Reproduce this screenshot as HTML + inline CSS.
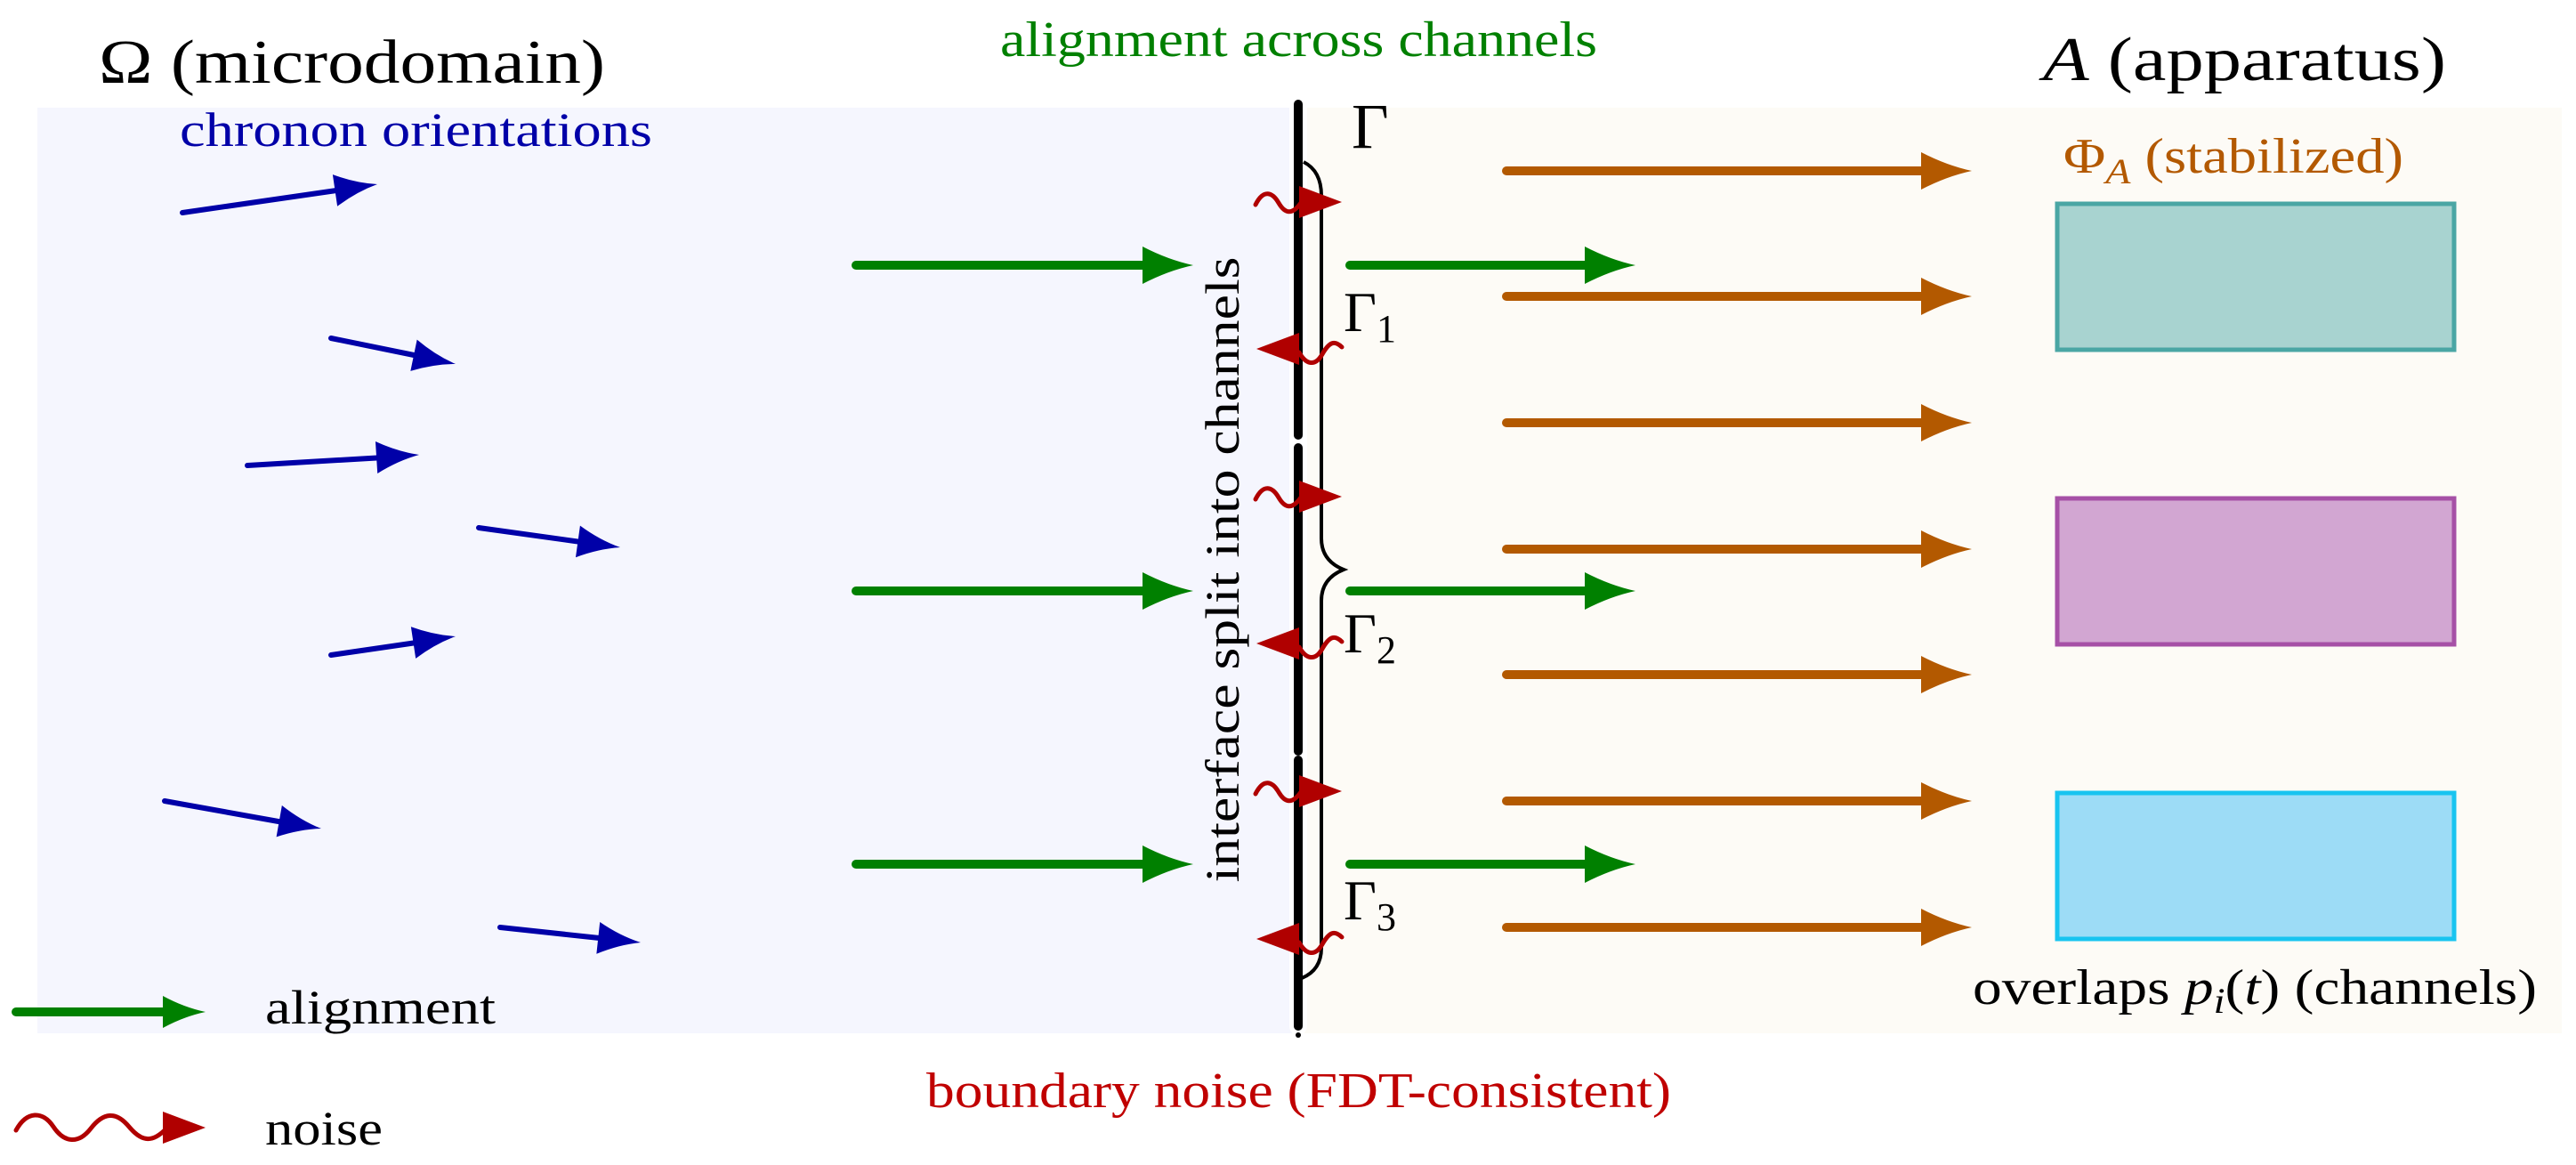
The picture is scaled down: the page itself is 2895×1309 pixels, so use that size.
<!DOCTYPE html>
<html><head><meta charset="utf-8"><style>html,body{margin:0;padding:0;background:#fff}svg{display:block}</style></head>
<body>
<svg width="2895" height="1309" viewBox="0 0 2895 1309" xmlns="http://www.w3.org/2000/svg" font-family="'Liberation Serif', serif">
<defs>
<path id="hd" d="M0,0 Q-28,-6 -57,-21 L-57,21 Q-28,6 0,0 Z"/>
<path id="hb" d="M0,0 Q-24,-5 -48,-18 L-48,18 Q-24,5 0,0 Z"/>
<path id="hn" d="M0,0 L-48,-18 L-48,18 Z"/>
</defs>
<rect x="42" y="121" width="1410" height="1040" fill="#f5f6fe"/>
<rect x="1466" y="121" width="1413" height="1040" fill="#fdfbf6"/>

<text x="111" y="93" font-size="70" textLength="569" lengthAdjust="spacingAndGlyphs">Ω (microdomain)</text>
<text x="2296" y="90" font-size="70" textLength="453" lengthAdjust="spacingAndGlyphs"><tspan font-style="italic">A</tspan> (apparatus)</text>
<text x="1124" y="63" font-size="56" fill="#008000" textLength="671" lengthAdjust="spacingAndGlyphs">alignment across channels</text>
<text x="202" y="164" font-size="54" fill="#0000a8" textLength="531" lengthAdjust="spacingAndGlyphs">chronon orientations</text>
<text x="1041" y="1244" font-size="56" fill="#c00000" textLength="837" lengthAdjust="spacingAndGlyphs">boundary noise (FDT-consistent)</text>
<text x="2319" y="194" font-size="56" fill="#b35900" textLength="382" lengthAdjust="spacingAndGlyphs">Φ<tspan font-style="italic" font-size="40" dy="12">A</tspan><tspan dy="-12"> (stabilized)</tspan></text>
<text x="2217" y="1128" font-size="56" textLength="634" lengthAdjust="spacingAndGlyphs">overlaps <tspan font-style="italic">p</tspan><tspan font-style="italic" font-size="40" dy="10">i</tspan><tspan dy="-10">(</tspan><tspan font-style="italic">t</tspan>) (channels)</text>
<text x="1392" y="640" font-size="54" text-anchor="middle" transform="rotate(-90 1392 640)" textLength="703" lengthAdjust="spacingAndGlyphs">interface split into channels</text>

<!-- blue arrows -->
<g stroke="#0000a8" stroke-width="6" stroke-linecap="round" fill="#0000a8">
<line x1="205" y1="239" x2="385" y2="213"/><use href="#hb" stroke="none" transform="translate(424,207) rotate(-8.3)"/>
<line x1="372" y1="380" x2="475" y2="401"/><use href="#hb" stroke="none" transform="translate(512,409) rotate(11.7)"/>
<line x1="278" y1="523" x2="432" y2="514"/><use href="#hb" stroke="none" transform="translate(471,511) rotate(-3.6)"/>
<line x1="538" y1="593" x2="660" y2="610"/><use href="#hb" stroke="none" transform="translate(697,615) rotate(7.9)"/>
<line x1="372" y1="736" x2="475" y2="721"/><use href="#hb" stroke="none" transform="translate(512,715) rotate(-8.5)"/>
<line x1="185" y1="900" x2="324" y2="925"/><use href="#hb" stroke="none" transform="translate(361,931) rotate(10)"/>
<line x1="562" y1="1042" x2="683" y2="1055"/><use href="#hb" stroke="none" transform="translate(720,1059) rotate(6.1)"/>
</g>

<!-- green arrows -->
<g stroke="#008000" stroke-width="10" stroke-linecap="round" fill="#008000">
<line x1="962" y1="298" x2="1295" y2="298"/><use href="#hd" stroke="none" transform="translate(1341,298)"/>
<line x1="962" y1="664" x2="1295" y2="664"/><use href="#hd" stroke="none" transform="translate(1341,664)"/>
<line x1="962" y1="971" x2="1295" y2="971"/><use href="#hd" stroke="none" transform="translate(1341,971)"/>
<line x1="1517" y1="298" x2="1790" y2="298"/><use href="#hd" stroke="none" transform="translate(1838,298)"/>
<line x1="1517" y1="664" x2="1790" y2="664"/><use href="#hd" stroke="none" transform="translate(1838,664)"/>
<line x1="1517" y1="971" x2="1790" y2="971"/><use href="#hd" stroke="none" transform="translate(1838,971)"/>
<line x1="18" y1="1137" x2="190" y2="1137"/><use href="#hb" stroke="none" transform="translate(231,1137)"/>
</g>

<!-- orange arrows -->
<g stroke="#b35900" stroke-width="10" stroke-linecap="round" fill="#b35900">
<line x1="1693" y1="192" x2="2170" y2="192"/><use href="#hd" stroke="none" transform="translate(2216,192)"/>
<line x1="1693" y1="333" x2="2170" y2="333"/><use href="#hd" stroke="none" transform="translate(2216,333)"/>
<line x1="1693" y1="475" x2="2170" y2="475"/><use href="#hd" stroke="none" transform="translate(2216,475)"/>
<line x1="1693" y1="617" x2="2170" y2="617"/><use href="#hd" stroke="none" transform="translate(2216,617)"/>
<line x1="1693" y1="758" x2="2170" y2="758"/><use href="#hd" stroke="none" transform="translate(2216,758)"/>
<line x1="1693" y1="900" x2="2170" y2="900"/><use href="#hd" stroke="none" transform="translate(2216,900)"/>
<line x1="1693" y1="1042" x2="2170" y2="1042"/><use href="#hd" stroke="none" transform="translate(2216,1042)"/>
</g>

<!-- boxes -->
<rect x="2312" y="229" width="446" height="164" fill="#a8d3d0" stroke="#4aa6a4" stroke-width="5"/>
<rect x="2312" y="560" width="446" height="164" fill="#d2a6d2" stroke="#a650a6" stroke-width="5"/>
<rect x="2312" y="891" width="446" height="164" fill="#9ddcf6" stroke="#18c4f0" stroke-width="5"/>

<!-- interface -->
<g stroke-linecap="round">
<line x1="1459" y1="117" x2="1459" y2="1153" stroke="#fff" stroke-width="20"/>
<g stroke="#000" stroke-width="10">
<line x1="1459" y1="117" x2="1459" y2="489"/>
<line x1="1459" y1="503" x2="1459" y2="844"/>
<line x1="1459" y1="854" x2="1459" y2="1153"/>
</g>
<circle cx="1459" cy="1163" r="3" fill="#000"/>
</g>

<!-- brace -->
<path d="M1465,182 Q1485,192 1485,220 L1485,605 Q1485,630 1510,640 Q1485,650 1485,675 L1485,1065 Q1485,1090 1463,1099" fill="none" stroke="#000" stroke-width="4"/>

<text x="1519" y="166" font-size="72">Γ</text>
<text x="1510" y="372" font-size="64">Γ<tspan font-size="44" dy="12">1</tspan></text>
<text x="1510" y="733" font-size="64">Γ<tspan font-size="44" dy="12">2</tspan></text>
<text x="1510" y="1033" font-size="64">Γ<tspan font-size="44" dy="12">3</tspan></text>

<!-- noise arrows -->
<g stroke="#b00000" stroke-width="5" fill="none" stroke-linecap="round">
<path d="M1411,230 C1420,212 1430,216 1437,228 S1452,242 1462,228"/>
<path d="M1460,396 C1468,410 1478,412 1486,398 S1500,382 1508,390"/>
<path d="M1411,561 C1420,543 1430,547 1437,559 S1452,573 1462,559"/>
<path d="M1460,727 C1468,741 1478,743 1486,729 S1500,713 1508,721"/>
<path d="M1411,892 C1420,874 1430,878 1437,890 S1452,904 1462,890"/>
<path d="M1460,1059 C1468,1073 1478,1075 1486,1061 S1500,1045 1508,1053"/>
<path d="M18,1270 C30,1248 48,1248 60,1266 S88,1286 102,1268 S130,1248 145,1266 S172,1284 188,1267"/>
</g>
<g fill="#b00000">
<use href="#hn" transform="translate(1508,227)"/>
<use href="#hn" transform="translate(1412,392) rotate(180)"/>
<use href="#hn" transform="translate(1508,558)"/>
<use href="#hn" transform="translate(1412,723) rotate(180)"/>
<use href="#hn" transform="translate(1508,889)"/>
<use href="#hn" transform="translate(1412,1055) rotate(180)"/>
<use href="#hn" transform="translate(231,1267)"/>
</g>

<text x="298" y="1150" font-size="54" textLength="259" lengthAdjust="spacingAndGlyphs">alignment</text>
<text x="298" y="1286" font-size="54" textLength="132" lengthAdjust="spacingAndGlyphs">noise</text>
</svg>
</body></html>
